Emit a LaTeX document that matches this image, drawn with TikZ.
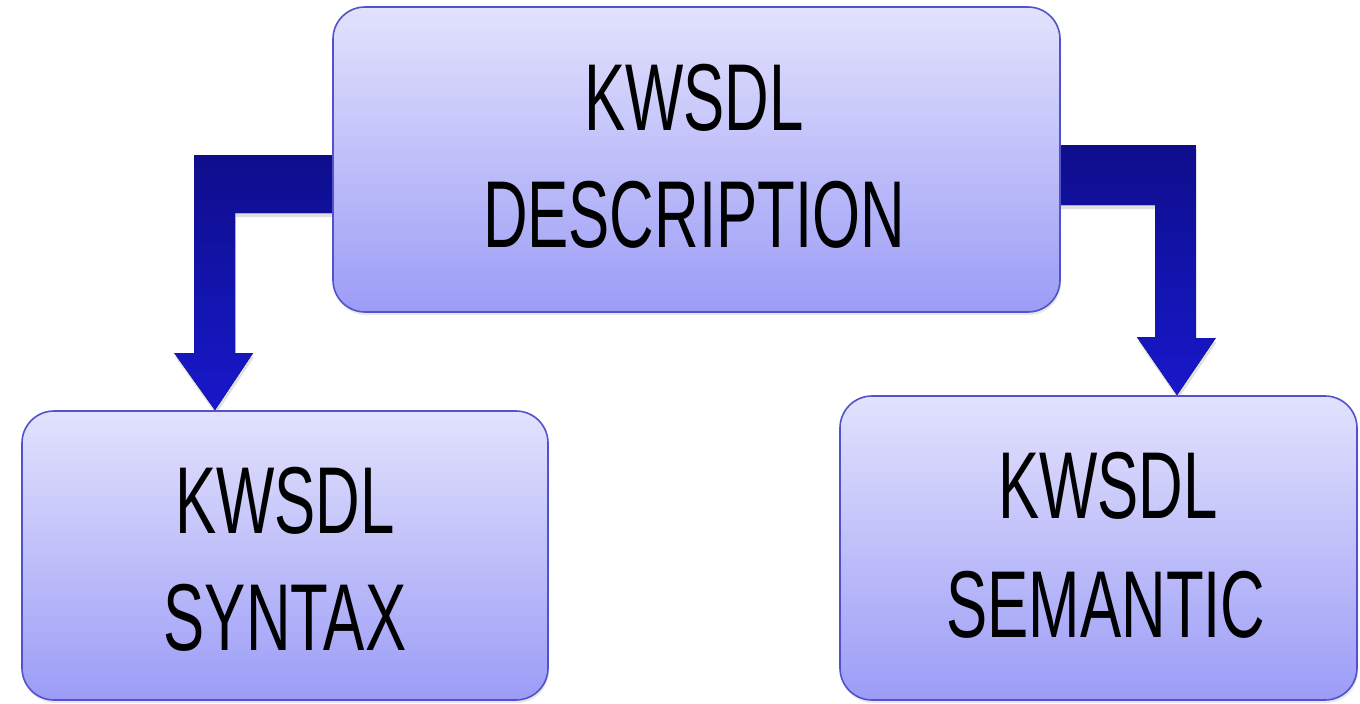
\documentclass[tikz,border=0pt]{standalone}
\usepackage{fontspec}
\usepackage{graphicx}
\setmainfont{Liberation Sans}
\usetikzlibrary{calc,shadows}
\pgfdeclarelayer{bg}
\pgfsetlayers{bg,main}

\definecolor{boxtop}{RGB}{226,226,253}
\definecolor{boxbottom}{RGB}{156,156,247}
\definecolor{boxline}{RGB}{82,82,204}
\definecolor{arrowtop}{RGB}{14,14,140}
\definecolor{arrowbottom}{RGB}{24,24,204}

\newcommand{\narrow}[1]{\scalebox{0.65}[1]{#1}}

\tikzset{
  panel/.style={draw=boxline, line width=1.6pt, rounded corners=32pt,
    top color=boxtop, bottom color=boxbottom, inner sep=0pt,
    drop shadow={opacity=0.18, shadow xshift=1pt, shadow yshift=-3pt}},
  caption/.style={anchor=base, inner sep=0pt, text=black,
    font=\fontsize{95}{117}\selectfont},
  blockarrow/.style={top color=arrowtop, bottom color=arrowbottom,
    drop shadow={opacity=0.25, shadow xshift=1pt, shadow yshift=-4pt}}
}

\begin{document}
\begin{tikzpicture}[x=1pt, y=-1pt]
\useasboundingbox (0,0) rectangle (1360,704);

% boxes
\node[panel, minimum width=727pt, minimum height=305pt] (desc) at (696.5,159.5) {};
\node[panel, minimum width=526pt, minimum height=289pt] (syntax) at (285,555.5) {};
\node[panel, minimum width=517pt, minimum height=304pt] (semantic) at (1098.5,548) {};

% labels
\node[caption] (descA) at (694,130) {\narrow{KWSDL}};
\node[caption] (descB) at (694,247) {\narrow{DESCRIPTION}};
\node[caption] (synA) at (285,533) {\narrow{KWSDL}};
\node[caption] (synB) at (285,650) {\narrow{SYNTAX}};
\node[caption] (semA) at (1108,518) {\narrow{KWSDL}};
\node[caption] (semB) at (1106,637) {\narrow{SEMANTIC}};

% arrow tips on the upper edges of the lower boxes
\coordinate (ltip) at (215,0 |- syntax.north);
\coordinate (rtip) at (1177,0 |- semantic.north);

\begin{pgfonlayer}{bg}
  % description -> syntax
  \fill[blockarrow] ($(desc.west)+(4,-4.5)$) -- ++(-142,0) -- ++(0,198)
    -- ++(-20,0) -- (ltip) -- ++(38,-57) -- ++(-18,0)
    |- ($(desc.west)+(4,53.5)$) -- cycle;
  % description -> semantic
  \fill[blockarrow] ($(desc.east)+(-4,-14.5)$) -- ++(139,0) -- ++(0,193)
    -- ++(20,0) -- (rtip) -- ++(-40,-58) -- ++(18,0)
    |- ($(desc.east)+(-4,45.5)$) -- cycle;
\end{pgfonlayer}
\end{tikzpicture}
\end{document}
